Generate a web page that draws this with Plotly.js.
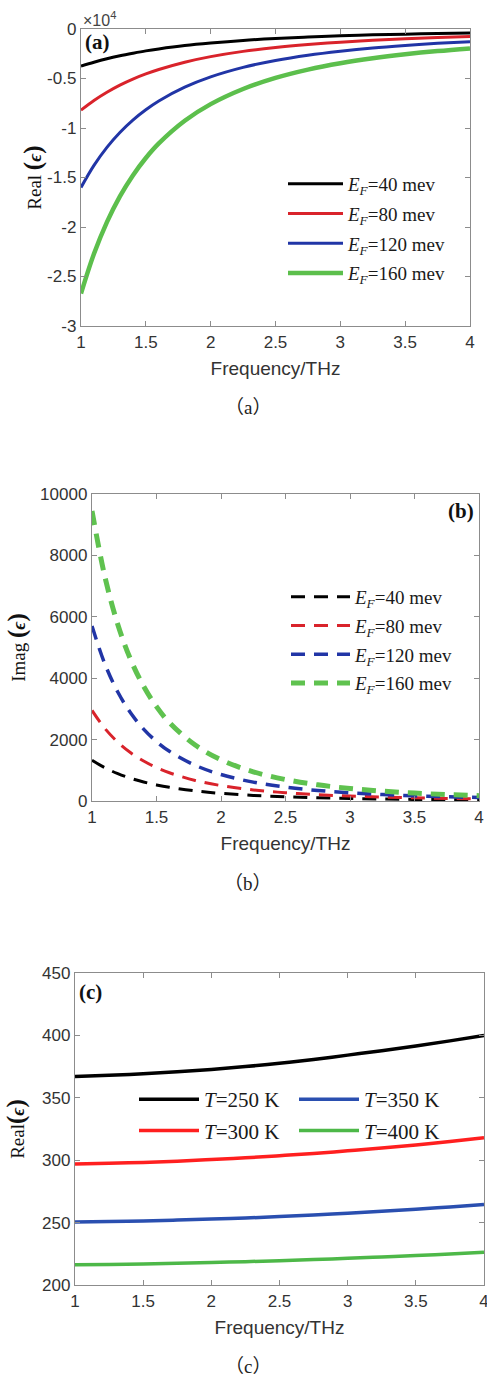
<!DOCTYPE html>
<html>
<head>
<meta charset="utf-8">
<script src="https://cdn.plot.ly/plotly-3.0.1.min.js"></script>
<style>html,body{margin:0;padding:0;background:#fff}#chart{width:487px;height:1383px}</style>
</head>
<body>
<div id="chart"></div>
<script>
// Frequency samples (THz)
const freq = [1, 1.1, 1.2, 1.3, 1.4, 1.5, 1.6, 1.8, 2.0, 2.25, 2.5, 2.75, 3.0, 3.25, 3.5, 3.75, 4.0];

// (a) Real(eps), units of 1e4
const realEF40  = [-0.375, -0.336, -0.301, -0.271, -0.245, -0.221, -0.201, -0.167, -0.141, -0.115, -0.096, -0.081, -0.069, -0.059, -0.052, -0.045, -0.040];
const realEF80  = [-0.820, -0.722, -0.639, -0.567, -0.506, -0.454, -0.409, -0.335, -0.279, -0.226, -0.187, -0.157, -0.133, -0.114, -0.099, -0.087, -0.077];
const realEF120 = [-1.600, -1.377, -1.195, -1.045, -0.920, -0.816, -0.727, -0.588, -0.484, -0.388, -0.318, -0.265, -0.224, -0.191, -0.166, -0.145, -0.128];
const realEF160 = [-2.672, -2.271, -1.951, -1.691, -1.479, -1.303, -1.156, -0.927, -0.759, -0.606, -0.494, -0.410, -0.346, -0.296, -0.256, -0.223, -0.196];

// (b) Imag(eps)
const imagEF40  = [1330, 1083, 891, 740, 620, 523, 445, 329, 249, 181, 136, 104, 81, 65, 52, 43, 36];
const imagEF80  = [2950, 2362, 1915, 1570, 1301, 1089, 919, 670, 503, 362, 269, 205, 160, 127, 102, 83, 69];
const imagEF120 = [5700, 4461, 3549, 2864, 2342, 1937, 1619, 1163, 862, 614, 453, 343, 266, 210, 169, 138, 114];
const imagEF160 = [9450, 7303, 5750, 4601, 3736, 3073, 2556, 1822, 1342, 952, 699, 527, 408, 322, 258, 210, 174];

// (c) Real(eps) vs temperature
const freqC = [1, 1.25, 1.5, 1.75, 2.0, 2.25, 2.5, 2.75, 3.0, 3.25, 3.5, 3.75, 4.0];
const realT250 = [367.0, 368.0, 369.3, 370.8, 372.7, 375.0, 377.6, 380.7, 384.2, 387.7, 391.5, 395.6, 400.0];
const realT300 = [297.0, 297.5, 298.2, 299.2, 300.5, 301.9, 303.6, 305.4, 307.5, 309.7, 312.2, 315.0, 318.0];
const realT350 = [250.5, 250.8, 251.3, 252.0, 252.8, 253.7, 254.8, 256.1, 257.5, 259.0, 260.7, 262.5, 264.5];
const realT400 = [216.3, 216.5, 216.9, 217.4, 218.0, 218.7, 219.5, 220.4, 221.4, 222.5, 223.6, 224.9, 226.3];

const xTicks = [1, 1.5, 2, 2.5, 3, 3.5, 4];
const xTickText = ['1', '1.5', '2', '2.5', '3', '3.5', '4'];
const yTicksA = [0, -0.5, -1, -1.5, -2, -2.5, -3];
const yTickTextA = ['0', '-0.5', '-1', '-1.5', '-2', '-2.5', '-3'];
const yTicksB = [0, 2000, 4000, 6000, 8000, 10000];
const yTicksC = [200, 250, 300, 350, 400, 450];

const labelsEF = ['40', '80', '120', '160'];
const labelsT = ['250', '300', '350', '400'];

const W = 487, H = 1383;
const px = v => v / W;
const py = v => 1 - v / H;

const colA = ['#000000', '#d9232b', '#2135a6', '#5cbf4c'];
const colB = ['#000000', '#d9232b', '#2135a6', '#5fc24f'];
const colC = ['#000000', '#ff1f1f', '#2a4fb0', '#4db848'];
const wA = [3, 3, 3, 4.5];
const wB = [3, 3, 3.5, 5];

const efName = e => '<i>E</i><sub><i>F</i></sub>=' + e + ' mev';
const tName = t => '<i>T</i>=' + t + ' K';

const traces = [];
[realEF40, realEF80, realEF120, realEF160].forEach((arr, i) => {
  traces.push({x: freq, y: arr, xaxis: 'x', yaxis: 'y', type: 'scatter', mode: 'lines',
    line: {color: colA[i], width: wA[i], shape: 'spline', smoothing: 1},
    name: efName(labelsEF[i]), legend: 'legend', legendgroup: 'a' + i});
});
[imagEF40, imagEF80, imagEF120, imagEF160].forEach((arr, i) => {
  traces.push({x: freq, y: arr, xaxis: 'x2', yaxis: 'y2', type: 'scatter', mode: 'lines',
    line: {color: colB[i], width: wB[i], shape: 'spline', smoothing: 1, dash: '14px,9px'},
    name: efName(labelsEF[i]), legend: 'legend2', legendgroup: 'b' + i});
});
[realT250, realT300, realT350, realT400].forEach((arr, i) => {
  traces.push({x: freqC, y: arr, xaxis: 'x3', yaxis: 'y3', type: 'scatter', mode: 'lines',
    line: {color: colC[i], width: 3.5, shape: 'spline', smoothing: 1},
    name: tName(labelsT[i]), legend: i < 2 ? 'legend3' : 'legend4', legendgroup: 'c' + i});
});

const tickFont = {family: 'Liberation Sans, Arial, sans-serif', size: 17, color: '#333333'};
const titleFont = {family: 'Liberation Sans, Arial, sans-serif', size: 19, color: '#333333'};
const serifTitle = {family: 'Liberation Serif, DejaVu Serif, serif', size: 19, color: '#111111'};

function xAxis(domain, anchor) {
  return {domain: domain, anchor: anchor, range: [1, 4], tickvals: xTicks, ticktext: xTickText,
    ticks: 'inside', ticklen: 5, tickcolor: '#8c8c8c', showline: true, linecolor: '#8c8c8c', linewidth: 1.2,
    mirror: 'ticks', showgrid: false, zeroline: false, tickfont: tickFont, ticklabeloverflow: 'allow',
    title: {text: 'Frequency/THz', font: titleFont, standoff: 11}, automargin: false};
}
function yAxis(domain, anchor, range, tv, tt, title, standoff) {
  return {domain: domain, anchor: anchor, range: range, tickvals: tv, ticktext: tt,
    ticks: 'inside', ticklen: 5, tickcolor: '#8c8c8c', showline: true, linecolor: '#8c8c8c', linewidth: 1.2,
    mirror: 'ticks', showgrid: false, zeroline: false, tickfont: tickFont, ticklabeloverflow: 'allow',
    title: {text: title, font: serifTitle, standoff: standoff}, automargin: false};
}

const epsT = '<b><span style="font-size:25px">(</span><i>ϵ</i><span style="font-size:25px">)</span></b>';

const legendBase = {bgcolor: 'rgba(0,0,0,0)', borderwidth: 0, xanchor: 'left', yanchor: 'top',
  traceorder: 'grouped', font: {family: 'Liberation Serif, Times New Roman, serif', size: 19, color: '#1a1a1a'}};

const layout = {
  width: W, height: H, margin: {l: 0, r: 0, t: 0, b: 0}, paper_bgcolor: '#fff', plot_bgcolor: '#fff',
  showlegend: true,
  xaxis: xAxis([px(81), px(470)], 'y'),
  yaxis: yAxis([py(326), py(29)], 'x', [-3, 0], yTicksA, yTickTextA, 'Real ' + epsT, 0),
  xaxis2: xAxis([px(92), px(479)], 'y2'),
  yaxis2: yAxis([py(801), py(494)], 'x2', [0, 10000], yTicksB, yTicksB.map(String), 'Imag ' + epsT, 9),
  xaxis3: xAxis([px(75), px(484)], 'y3'),
  yaxis3: yAxis([py(1285), py(973)], 'x3', [200, 450], yTicksC, yTicksC.map(String), 'Real' + epsT, 12),
  legend: Object.assign({}, legendBase, {x: px(283), y: py(165), itemwidth: 55, tracegroupgap: 2}),
  legend2: Object.assign({}, legendBase, {x: px(286), y: py(578), itemwidth: 59, tracegroupgap: 1}),
  legend3: Object.assign({}, legendBase, {x: px(134), y: py(1079), itemwidth: 60, tracegroupgap: 1,
    font: {family: 'Liberation Serif, Times New Roman, serif', size: 21, color: '#1a1a1a'}}),
  legend4: Object.assign({}, legendBase, {x: px(294), y: py(1079), itemwidth: 60, tracegroupgap: 1,
    font: {family: 'Liberation Serif, Times New Roman, serif', size: 21, color: '#1a1a1a'}}),
  annotations: [
    {text: '<b>(a)</b>', xref: 'paper', yref: 'paper', x: px(83), y: py(42), xanchor: 'left', yanchor: 'middle',
     showarrow: false, font: {family: 'Liberation Serif, serif', size: 21, color: '#111'}},
    {text: '<b>(b)</b>', xref: 'paper', yref: 'paper', x: px(476), y: py(511), xanchor: 'right', yanchor: 'middle',
     showarrow: false, font: {family: 'Liberation Serif, serif', size: 21, color: '#111'}},
    {text: '<b>(c)</b>', xref: 'paper', yref: 'paper', x: px(77), y: py(992), xanchor: 'left', yanchor: 'middle',
     showarrow: false, font: {family: 'Liberation Serif, serif', size: 21, color: '#111'}},
    {text: '×10<sup>4</sup>', xref: 'paper', yref: 'paper', x: px(81), y: py(19), xanchor: 'left', yanchor: 'middle',
     showarrow: false, font: {family: 'Liberation Sans, Arial, sans-serif', size: 16, color: '#444'}},
    {text: '（a）', xref: 'paper', yref: 'paper', x: px(248), y: py(408), xanchor: 'center', yanchor: 'middle',
     showarrow: false, font: {family: 'Liberation Serif, Noto Sans CJK SC, serif', size: 19, color: '#222'}},
    {text: '（b）', xref: 'paper', yref: 'paper', x: px(248), y: py(883), xanchor: 'center', yanchor: 'middle',
     showarrow: false, font: {family: 'Liberation Serif, Noto Sans CJK SC, serif', size: 19, color: '#222'}},
    {text: '（c）', xref: 'paper', yref: 'paper', x: px(248), y: py(1366), xanchor: 'center', yanchor: 'middle',
     showarrow: false, font: {family: 'Liberation Serif, Noto Sans CJK SC, serif', size: 19, color: '#222'}}
  ]
};

Plotly.newPlot('chart', traces, layout, {staticPlot: true, displayModeBar: false});
</script>
</body>
</html>
